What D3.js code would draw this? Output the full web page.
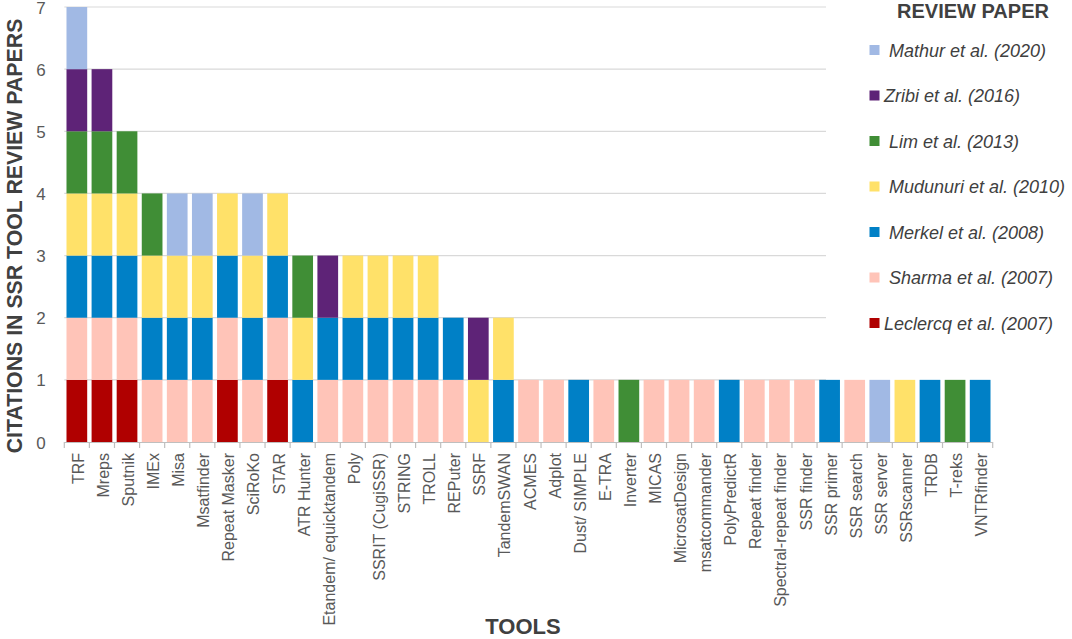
<!DOCTYPE html>
<html><head><meta charset="utf-8">
<script src="https://cdn.jsdelivr.net/npm/d3@7"></script>
<style>body{margin:0;background:#fff;} svg{display:block;}</style>
</head><body>
<svg id="c" width="1072" height="639"></svg>
<script>
const tools = ["TRF","Mreps","Sputnik","IMEx","Misa","Msatfinder","Repeat Masker","SciRoKo","STAR","ATR Hunter","Etandem/ equicktandem","Poly","SSRIT (CugiSSR)","STRING","TROLL","REPuter","SSRF","TandemSWAN","ACMES","Adplot","Dust/ SIMPLE","E-TRA","Inverter","MICAS","MicrosatDesign","msatcommander","PolyPredictR","Repeat finder","Spectral-repeat finder","SSR finder","SSR primer","SSR search","SSR server","SSRscanner","TRDB","T-reks","VNTRfinder"];
// series values per tool (same order as tools), listed bottom to top of stack
const leclercq = [1,1,1,0,0,0,1,0,1,0,0,0,0,0,0,0,0,0,0,0,0,0,0,0,0,0,0,0,0,0,0,0,0,0,0,0,0];
const sharma   = [1,1,1,1,1,1,1,1,1,0,1,1,1,1,1,1,0,0,1,1,0,1,0,1,1,1,0,1,1,1,0,1,0,0,0,0,0];
const merkel   = [1,1,1,1,1,1,1,1,1,1,1,1,1,1,1,1,0,1,0,0,1,0,0,0,0,0,1,0,0,0,1,0,0,0,1,0,1];
const mudunuri = [1,1,1,1,1,1,1,1,1,1,0,1,1,1,1,0,1,1,0,0,0,0,0,0,0,0,0,0,0,0,0,0,0,1,0,0,0];
const lim      = [1,1,1,1,0,0,0,0,0,1,0,0,0,0,0,0,0,0,0,0,0,0,1,0,0,0,0,0,0,0,0,0,0,0,0,1,0];
const zribi    = [1,1,0,0,0,0,0,0,0,0,1,0,0,0,0,0,1,0,0,0,0,0,0,0,0,0,0,0,0,0,0,0,0,0,0,0,0];
const mathur   = [1,0,0,0,1,1,0,1,0,0,0,0,0,0,0,0,0,0,0,0,0,0,0,0,0,0,0,0,0,0,0,0,1,0,0,0,0];
const seriesNames = ["Leclercq et al. (2007)","Sharma et al. (2007)","Merkel et al. (2008)","Mudunuri et al. (2010)","Lim et al. (2013)","Zribi et al. (2016)","Mathur et al. (2020)"];
const seriesValues = [leclercq, sharma, merkel, mudunuri, lim, zribi, mathur];
const colors = ["#B00000","#FFC4B8","#0080C6","#FFE169","#408E36","#5E2377","#A1B9E4"];
const yTicks = [0,1,2,3,4,5,6,7];

const FONT = "'Liberation Sans', Arial, sans-serif";
const svg = d3.select("#c");
const rows = tools.map((t,i)=>{const o={tool:t}; seriesNames.forEach((s,j)=>o[s]=seriesValues[j][i]); return o;});
const stacked = d3.stack().keys(seriesNames)(rows);

const x = d3.scaleBand().domain(tools).range([64.3, 992.7]).paddingInner(0.175).paddingOuter(0.0875);
const y = d3.scaleLinear().domain([0,7]).range([442, 7]);
const color = d3.scaleOrdinal().domain(seriesNames).range(colors);

// gridlines
svg.append("g").selectAll("line").data(yTicks.filter(v=>v>0)).join("line")
  .attr("x1",64.3).attr("x2",826).attr("y1",d=>y(d)).attr("y2",d=>y(d))
  .attr("stroke","#D9D9D9").attr("stroke-width",1.2);

// bars
svg.append("g").selectAll("g").data(stacked).join("g")
  .attr("fill",d=>color(d.key))
  .selectAll("rect").data(d=>d.filter(p=>p[1]>p[0])).join("rect")
  .attr("x",d=>x(d.data.tool)).attr("width",x.bandwidth())
  .attr("y",d=>y(d[1])).attr("height",d=>y(d[0])-y(d[1]));

// x axis
const step = x.step();
const x0 = x.range()[0];
const ax = svg.append("g");
ax.append("line").attr("x1",x0).attr("x2",x.range()[1]).attr("y1",442.5).attr("y2",442.5)
  .attr("stroke","#BFBFBF").attr("stroke-width",1.2);
ax.selectAll("line.tk").data(d3.range(tools.length+1)).join("line").attr("class","tk")
  .attr("x1",i=>x0+i*step).attr("x2",i=>x0+i*step).attr("y1",442).attr("y2",448)
  .attr("stroke","#BFBFBF").attr("stroke-width",1.2);
ax.selectAll("text").data(tools).join("text")
  .attr("transform",d=>`translate(${x(d)+x.bandwidth()/2+7},453) rotate(-90)`)
  .attr("text-anchor","end")
  .style("font-family",FONT).style("font-size","16px").attr("fill","#595959")
  .text(d=>d);

// y tick labels
svg.append("g").selectAll("text").data(yTicks).join("text")
  .attr("x",41).attr("y",d=>y(d)+6.5).attr("text-anchor","middle")
  .style("font-family",FONT).style("font-size","17px").attr("fill","#595959")
  .text(d=>d);

// axis titles
svg.append("text").attr("transform","translate(22,236) rotate(-90)").attr("text-anchor","middle")
  .style("font-family",FONT).style("font-size","21.3px").style("font-weight","bold")
  .attr("fill","#404040").text("CITATIONS IN SSR TOOL REVIEW PAPERS");
svg.append("text").attr("x",523).attr("y",634).attr("text-anchor","middle")
  .style("font-family",FONT).style("font-size","22px").style("font-weight","bold")
  .attr("fill","#404040").text("TOOLS");

// legend
const lg = svg.append("g");
lg.append("text").attr("x",973).attr("y",18).attr("text-anchor","middle")
  .style("font-family",FONT).style("font-size","20px").style("font-weight","bold")
  .attr("fill","#404040").text("REVIEW PAPER");
const legendOrder = seriesNames.slice().reverse();
const ly = d3.scalePoint().domain(legendOrder).range([50,323]);
const li = lg.selectAll("g.it").data(legendOrder).join("g").attr("class","it");
li.append("rect").attr("x",869.5).attr("y",d=>ly(d)-5).attr("width",10).attr("height",10).attr("fill",d=>color(d));
li.append("text").attr("x",d=>(d.startsWith("Zribi")||d.startsWith("Leclercq"))?884:889).attr("y",d=>ly(d)+6.5)
  .style("font-family",FONT).style("font-size","18px").style("font-style","italic")
  .attr("fill","#404040").text(d=>d);
</script>
</body></html>
